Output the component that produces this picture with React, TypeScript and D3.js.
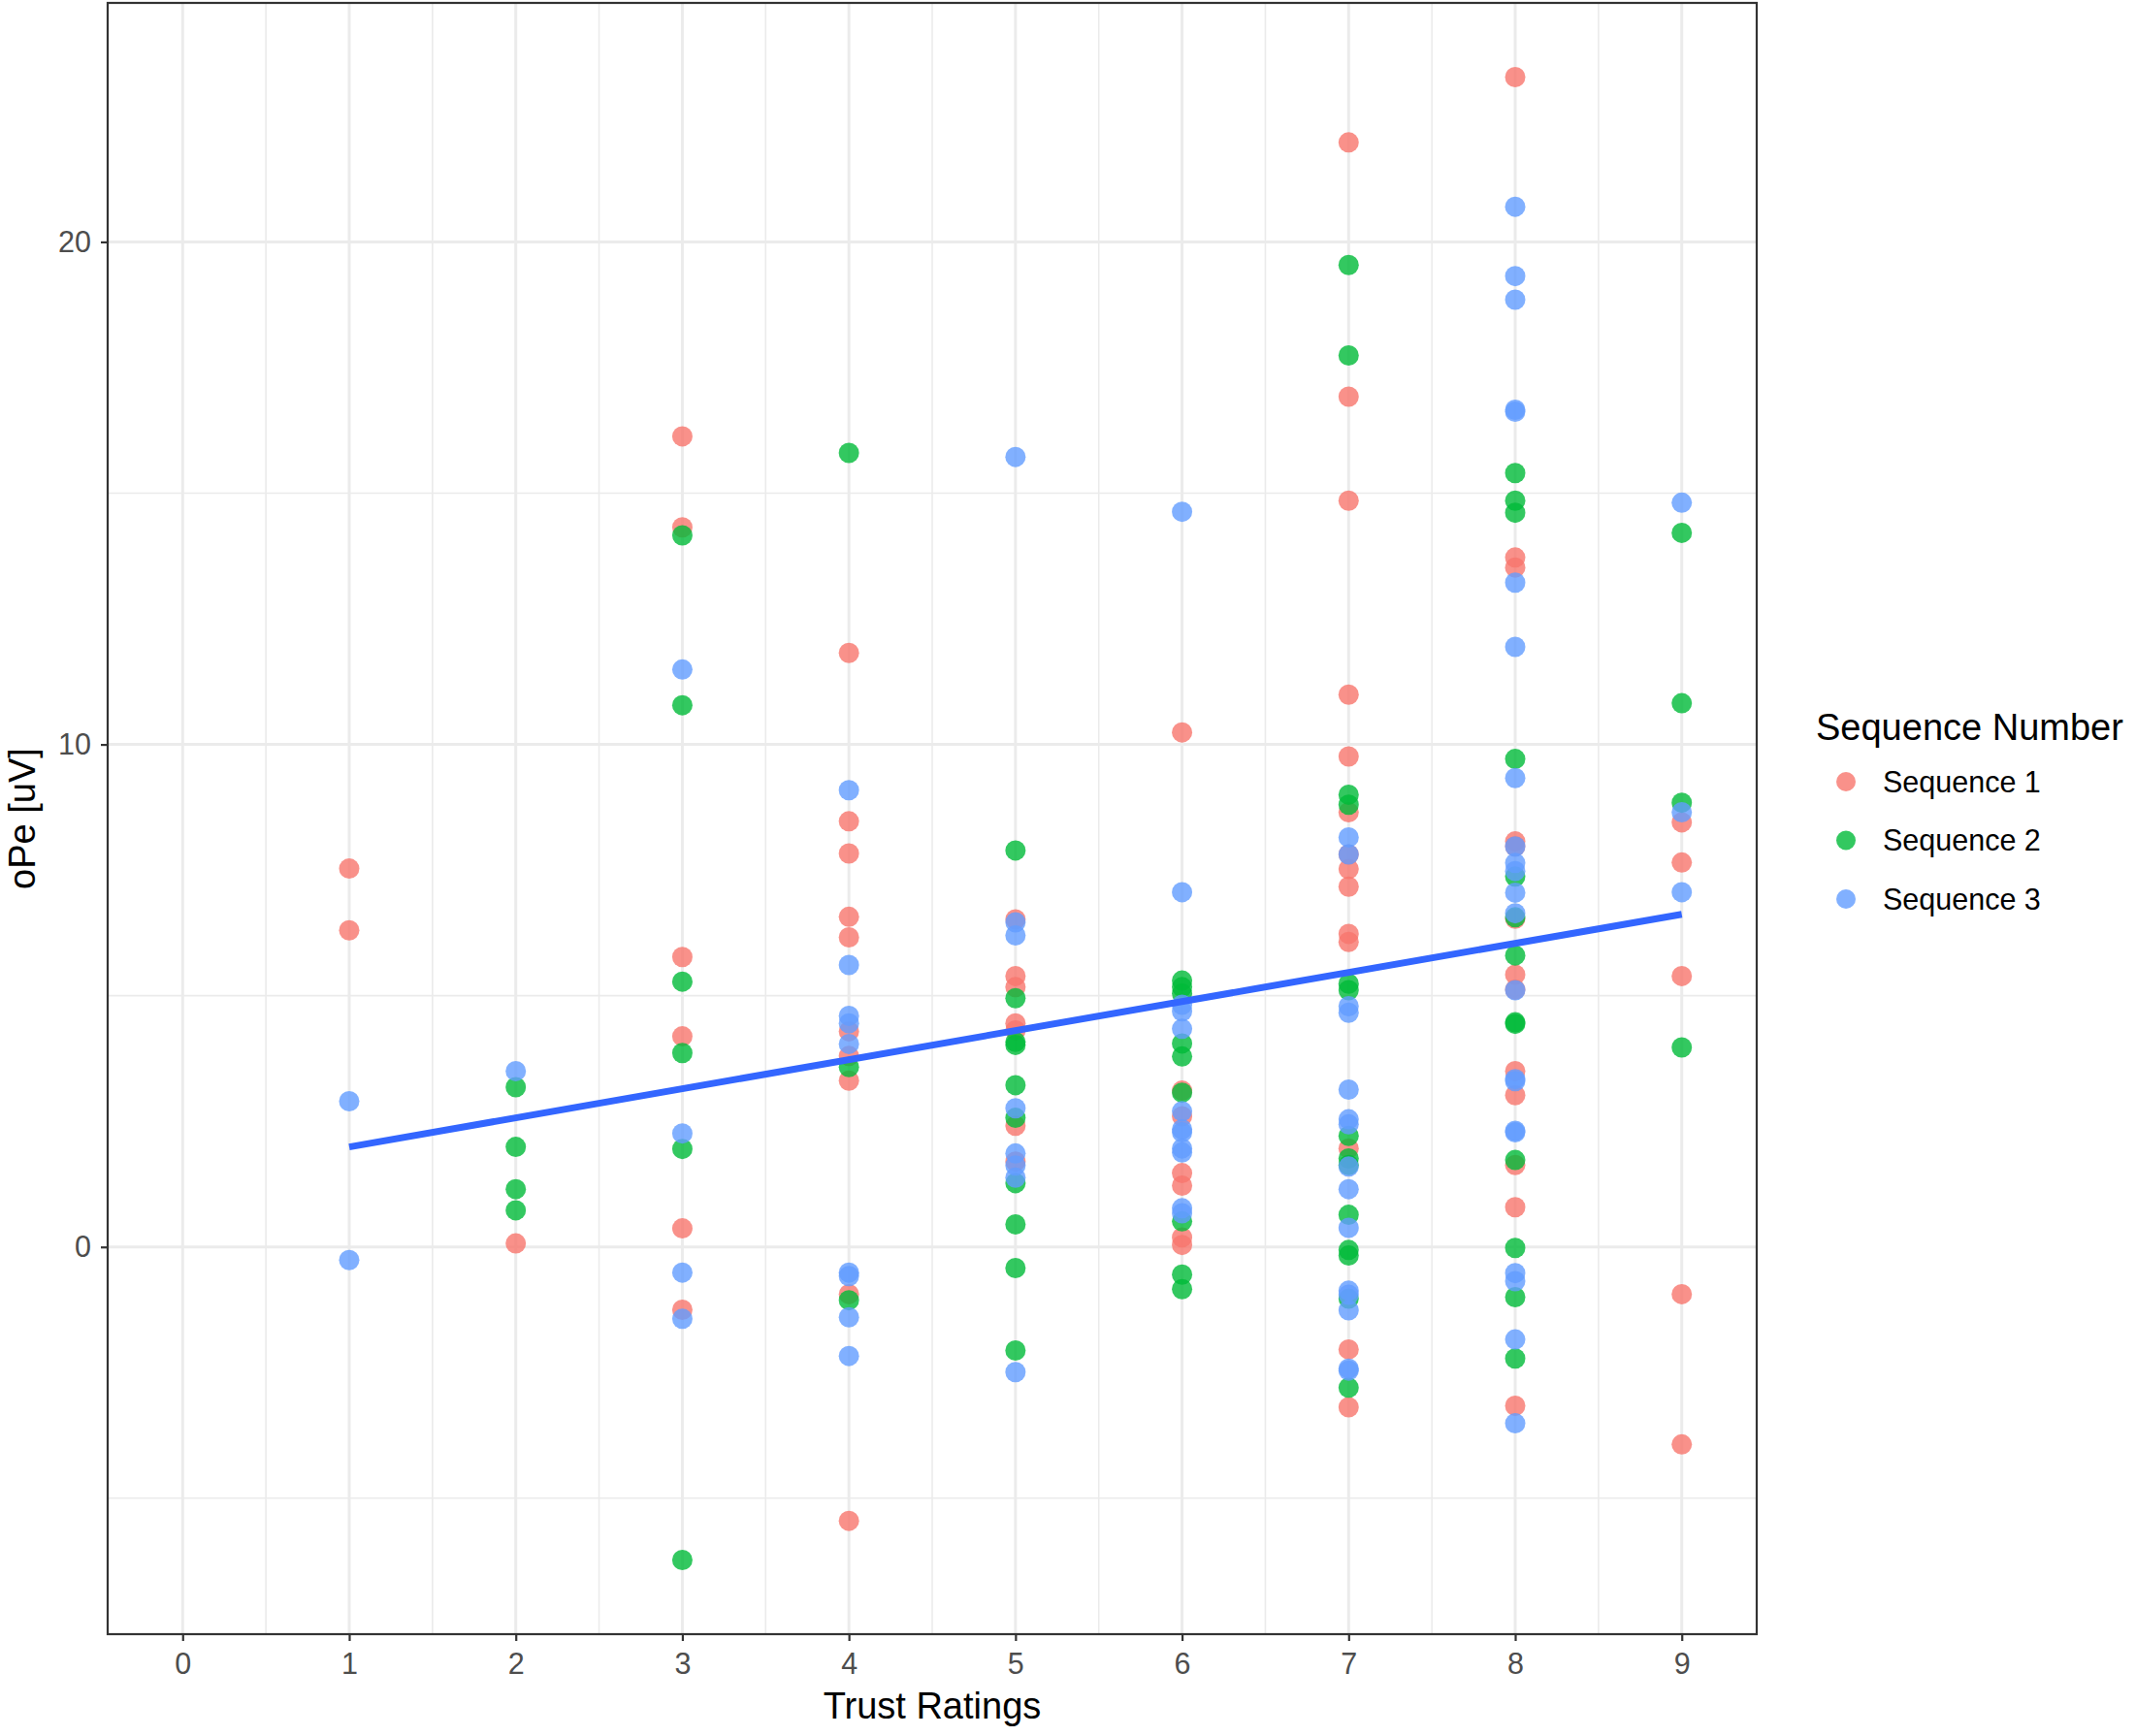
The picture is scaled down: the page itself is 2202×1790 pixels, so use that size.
import React, { useEffect, useRef } from 'react';
import * as d3 from 'd3';

// x positions (trust ratings) shown on the axis
const ratingTicks = [0, 1, 2, 3, 4, 5, 6, 7, 8, 9];
const trustRatings = [1, 2, 3, 4, 5, 6, 7, 8, 9];

// oPe [uV] values per trust rating, one inner list per rating (1..9)
const sequence1 = [
  [7.53, 6.3],
  [0.07],
  [16.13, 14.32, 5.77, 4.19, 0.37, -1.25],
  [11.82, 8.47, 7.83, 6.57, 6.16, 4.29, 3.8, 3.31, -0.94, -5.45],
  [6.52, 5.39, 5.17, 4.45, 4.31, 2.41, 1.7],
  [10.24, 3.11, 2.6, 1.47, 1.22, 0.19, 0.04],
  [21.98, 16.92, 14.85, 10.99, 9.76, 8.65, 7.81, 7.52, 7.17, 6.23, 6.07, 1.96, -2.04, -3.19],
  [23.28, 13.72, 13.52, 8.07, 7.97, 6.53, 5.42, 5.12, 3.5, 3.02, 1.63, 0.79, -3.16],
  [8.45, 7.65, 5.39, -0.94, -3.93],
];
const sequence2 = [
  [],
  [3.18, 1.99, 1.15, 0.73],
  [14.16, 10.78, 5.28, 3.86, 1.95, -6.23],
  [15.8, 3.58, -1.06],
  [7.89, 4.95, 4.08, 4.02, 3.22, 2.57, 1.27, 0.45, -0.42, -2.06],
  [5.3, 5.17, 5.04, 4.05, 3.79, 3.07, 0.51, -0.55, -0.84],
  [19.54, 17.74, 9.0, 8.8, 5.24, 5.11, 2.21, 1.76, 1.63, 0.64, -0.06, -0.17, -1.03, -2.8],
  [15.4, 14.85, 14.61, 9.71, 7.37, 6.56, 5.8, 4.47, 4.44, 1.73, -0.02, -1.0, -2.22],
  [14.21, 10.82, 8.84, 3.97],
];
const sequence3 = [
  [2.9, -0.26],
  [3.5],
  [11.49, 2.26, -0.51, -1.43],
  [9.09, 5.61, 4.6, 4.45, 4.04, -0.51, -0.58, -1.4, -2.17],
  [15.72, 6.46, 6.2, 2.76, 1.86, 1.62, 1.38, -2.49],
  [14.63, 7.06, 4.82, 4.69, 4.34, 2.7, 2.34, 2.28, 1.96, 1.88, 0.77, 0.67],
  [8.15, 7.81, 4.79, 4.66, 3.13, 2.54, 2.44, 1.6, 1.15, 0.38, -0.87, -0.95, -1.26, -2.42, -2.46],
  [20.7, 19.32, 18.85, 16.66, 16.62, 13.22, 11.94, 9.33, 7.97, 7.64, 7.48, 7.05, 6.64, 5.11, 3.34, 3.3, 2.31, 2.28, -0.52, -0.68, -1.84, -3.51],
  [14.81, 8.65, 7.06],
];

const seriesNames = ['Sequence 1', 'Sequence 2', 'Sequence 3'];
const seriesColors = ['#F8766D', '#00BA38', '#619CFF'];

const yMajorTicks = [0, 10, 20];
const yMinorTicks = [-5, 5, 15];

// linear fit, at the ends of the data range
const fitRatings = [1, 9];
const fitValues = [1.99, 6.62];

interface Pt {
  rating: number;
  value: number;
  series: number;
}

const App = () => {
  const ref = useRef<SVGSVGElement>(null);

  useEffect(() => {
    const width = 2202;
    const height = 1790;
    const panel = { left: 111, right: 1811, top: 3, bottom: 1685 };
    const font = '"Liberation Sans", Arial, Helvetica, sans-serif';

    const svg = d3.select(ref.current);
    svg.selectAll('*').remove();
    svg.attr('width', width).attr('height', height);

    svg.append('rect').attr('width', width).attr('height', height).attr('fill', 'white');

    const points: Pt[] = [];
    [sequence1, sequence2, sequence3].forEach((seq, s) => {
      seq.forEach((vals, i) => {
        vals.forEach((v) => points.push({ rating: trustRatings[i], value: v, series: s }));
      });
    });

    // ggplot-like 5% expansion
    const [xmin, xmax] = d3.extent(ratingTicks) as [number, number];
    const xpad = (xmax - xmin) * 0.05;
    const x = d3.scaleLinear().domain([xmin - xpad, xmax + xpad]).range([panel.left, panel.right]);

    const [ymin, ymax] = d3.extent(points, (d) => d.value) as [number, number];
    const ypad = (ymax - ymin) * 0.05;
    const y = d3.scaleLinear().domain([ymin - ypad, ymax + ypad]).range([panel.bottom, panel.top]);

    const grid = svg.append('g');
    // minor grid
    const xMinor = ratingTicks.slice(0, -1).map((t) => t + 0.5);
    grid.selectAll('.xminor').data(xMinor).enter().append('line')
      .attr('x1', (d) => x(d)).attr('x2', (d) => x(d))
      .attr('y1', panel.top).attr('y2', panel.bottom)
      .attr('stroke', '#EBEBEB').attr('stroke-width', 1.6);
    grid.selectAll('.yminor').data(yMinorTicks).enter().append('line')
      .attr('x1', panel.left).attr('x2', panel.right)
      .attr('y1', (d) => y(d)).attr('y2', (d) => y(d))
      .attr('stroke', '#EBEBEB').attr('stroke-width', 1.6);
    // major grid
    grid.selectAll('.xmajor').data(ratingTicks).enter().append('line')
      .attr('x1', (d) => x(d)).attr('x2', (d) => x(d))
      .attr('y1', panel.top).attr('y2', panel.bottom)
      .attr('stroke', '#EBEBEB').attr('stroke-width', 3);
    grid.selectAll('.ymajor').data(yMajorTicks).enter().append('line')
      .attr('x1', panel.left).attr('x2', panel.right)
      .attr('y1', (d) => y(d)).attr('y2', (d) => y(d))
      .attr('stroke', '#EBEBEB').attr('stroke-width', 3);

    // points
    svg.append('g').selectAll('circle').data(points).enter().append('circle')
      .attr('cx', (d) => x(d.rating))
      .attr('cy', (d) => y(d.value))
      .attr('r', 10.5)
      .attr('fill', (d) => seriesColors[d.series])
      .attr('fill-opacity', 0.8);

    // regression line
    const line = d3.line<number>()
      .x((d) => x(d))
      .y((_, i) => y(fitValues[i]));
    svg.append('path')
      .attr('d', line(fitRatings))
      .attr('fill', 'none')
      .attr('stroke', '#3366FF')
      .attr('stroke-width', 7);

    // panel border
    svg.append('rect')
      .attr('x', panel.left).attr('y', panel.top)
      .attr('width', panel.right - panel.left).attr('height', panel.bottom - panel.top)
      .attr('fill', 'none').attr('stroke', '#333333').attr('stroke-width', 2.2);

    // x axis
    const xAxis = svg.append('g').attr('transform', `translate(0,${panel.bottom})`)
      .call(d3.axisBottom(x).tickValues(ratingTicks).tickSize(7).tickPadding(12).tickFormat(d3.format('d')));
    xAxis.select('.domain').remove();
    xAxis.selectAll('line').attr('stroke', '#333333').attr('stroke-width', 2.2);
    xAxis.selectAll('text').attr('fill', '#4D4D4D').attr('font-size', 30.5).attr('font-family', font);

    // y axis
    const yAxis = svg.append('g').attr('transform', `translate(${panel.left},0)`)
      .call(d3.axisLeft(y).tickValues(yMajorTicks).tickSize(7).tickPadding(10).tickFormat(d3.format('d')));
    yAxis.select('.domain').remove();
    yAxis.selectAll('line').attr('stroke', '#333333').attr('stroke-width', 2.2);
    yAxis.selectAll('text').attr('fill', '#4D4D4D').attr('font-size', 30.5).attr('font-family', font);

    // axis titles
    svg.append('text')
      .attr('x', (panel.left + panel.right) / 2).attr('y', 1772)
      .attr('text-anchor', 'middle').attr('font-size', 38).attr('font-family', font)
      .attr('fill', 'black').text('Trust Ratings');
    svg.append('text')
      .attr('transform', `translate(36,${(panel.top + panel.bottom) / 2}) rotate(-90)`)
      .attr('text-anchor', 'middle').attr('font-size', 38).attr('font-family', font)
      .attr('fill', 'black').text('oPe [uV]');

    // legend
    const legend = svg.append('g');
    legend.append('text')
      .attr('x', 1872).attr('y', 763)
      .attr('font-size', 38).attr('font-family', font).attr('fill', 'black')
      .text('Sequence Number');
    const keyY = d3.scalePoint<string>().domain(seriesNames).range([806, 927]);
    seriesNames.forEach((name, i) => {
      legend.append('circle')
        .attr('cx', 1903).attr('cy', keyY(name) as number).attr('r', 10)
        .attr('fill', seriesColors[i]).attr('fill-opacity', 0.8);
      legend.append('text')
        .attr('x', 1941).attr('y', keyY(name) as number).attr('dy', '0.36em')
        .attr('font-size', 30.5).attr('font-family', font).attr('fill', 'black')
        .text(name);
    });

    return () => {
      svg.selectAll('*').remove();
    };
  }, []);

  return (
    <div style={{ position: 'absolute', left: 0, top: 0 }}>
      <svg ref={ref} />
    </div>
  );
};

export default App;
